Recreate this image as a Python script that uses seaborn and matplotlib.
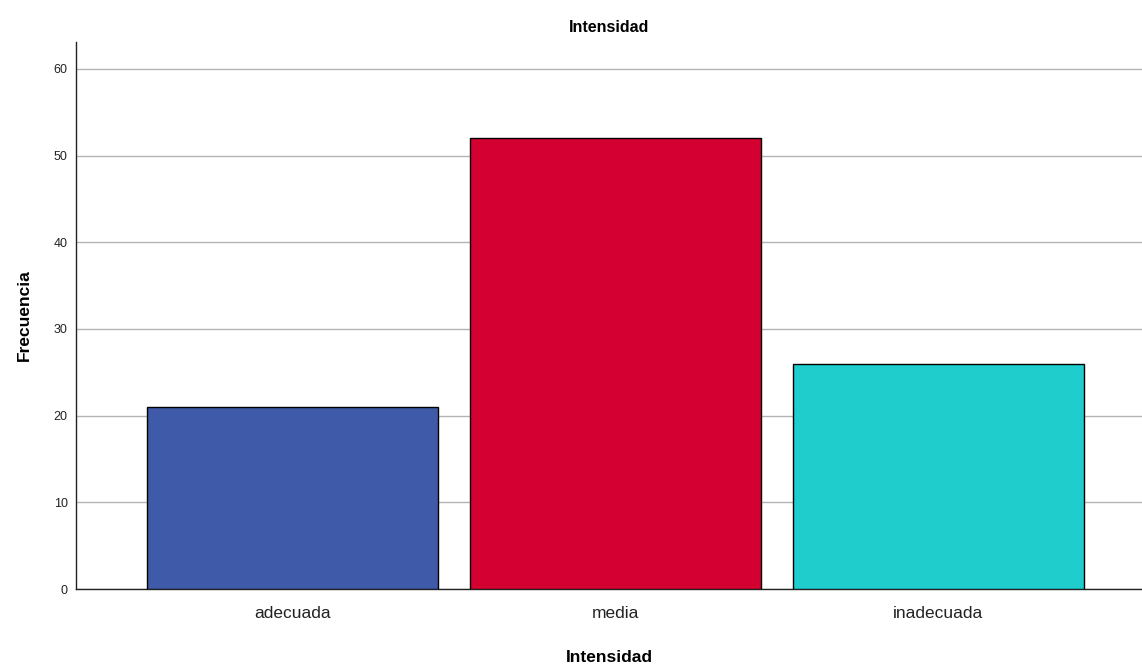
import matplotlib
matplotlib.use("Agg")
import matplotlib.pyplot as plt
import seaborn as sns
import pandas as pd

categories = ["adecuada", "media", "inadecuada"]
frequencies = [21, 52, 26]
colors = ["#3f5aa8", "#d50032", "#1fcdcd"]

sns.set_style("white")
plt.rcParams['font.family'] = ['Liberation Sans', 'DejaVu Sans']

df = pd.DataFrame({"cat": categories, "freq": frequencies})

fig = plt.figure(figsize=(11.42, 6.66), dpi=100)
ax = fig.add_axes([0.0665, 0.1156, 0.9335, 0.8214])
sns.barplot(data=df, x="cat", y="freq", hue="cat", palette=colors, legend=False,
            width=0.9, edgecolor="black", linewidth=1.0, saturation=1, ax=ax, zorder=3)

ax.set_ylim(0, 63.1)
ax.set_xlim(-0.67, 2.63)
ax.set_yticks([0, 10, 20, 30, 40, 50, 60])
ax.yaxis.grid(True, color="#b4b4b4", linewidth=1.0, zorder=0)
ax.set_axisbelow(True)
for s in ["top", "right"]:
    ax.spines[s].set_visible(False)
for s in ["left", "bottom"]:
    ax.spines[s].set_color("#222222")
    ax.spines[s].set_linewidth(1.0)
ax.tick_params(axis="y", labelsize=9, length=0, pad=6, labelcolor="#222222")
ax.tick_params(axis="x", labelsize=12.5, length=0, pad=12, labelcolor="#222222")
ax.set_xlabel("Intensidad", fontsize=12.5, fontweight="bold", labelpad=21, color="black")
ax.set_ylabel("Frecuencia", fontsize=12.5, fontweight="bold", labelpad=16, color="black")
ax.set_title("Intensidad", fontsize=11.5, fontweight="bold", pad=7, color="black")

fig.savefig("out.png", dpi=100)
